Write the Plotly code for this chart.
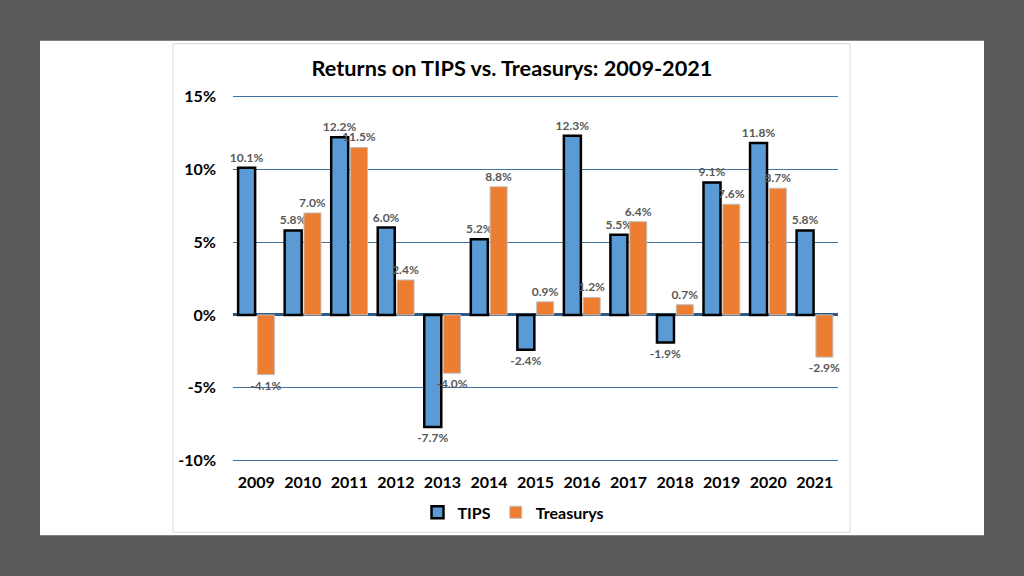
import plotly.graph_objects as go

years = ["2009", "2010", "2011", "2012", "2013", "2014", "2015",
         "2016", "2017", "2018", "2019", "2020", "2021"]
tips = [10.1, 5.8, 12.2, 6.0, -7.7, 5.2, -2.4, 12.3, 5.5, -1.9, 9.1, 11.8, 5.8]
treasurys = [-4.1, 7.0, 11.5, 2.4, -4.0, 8.8, 0.9, 1.2, 6.4, 0.7, 7.6, 8.7, -2.9]
y_ticks = [-10, -5, 0, 5, 10, 15]
y_labels = ["-10%", "-5%", "0%", "5%", "10%", "15%"]

W, H = 1024, 576
# range padded a bit so plotly keeps the -10% / 15% gridlines
L, R, T, B = 233, 186, 94.5, 113.5
pw, ph = W - L - R, H - T - B


def px(x, y):
    # pixel position -> paper fraction
    return (x - L) / pw, (H - B - y) / ph


def label(v):
    return "<b>%.1f%%</b>" % v


fig = go.Figure()
fig.add_trace(go.Bar(
    x=years, y=tips, name="TIPS",
    marker=dict(color="#5B9BD5", line=dict(color="#000000", width=2.5)),
    text=[label(v) for v in tips], textposition="outside",
    textfont=dict(family="Lato", size=12, color="#595959"),
    constraintext="none", cliponaxis=False,
))
fig.add_trace(go.Bar(
    x=years, y=treasurys, name="Treasurys",
    marker=dict(color="#ED7D31", line=dict(color="#BFBFBF", width=1)),
    text=[label(v) for v in treasurys], textposition="outside",
    textfont=dict(family="Lato", size=12, color="#595959"),
    constraintext="none", cliponaxis=False,
))

x0, y0 = px(40, 40)
x1, y1 = px(984, 536)
fx0, fy0 = px(173, 43)
fx1, fy1 = px(850, 533)
fig.add_shape(type="rect", xref="paper", yref="paper", x0=x0, y0=y0, x1=x1, y1=y1,
              fillcolor="white", line=dict(width=0), layer="below")
fig.add_shape(type="rect", xref="paper", yref="paper", x0=fx0, y0=fy0, x1=fx1, y1=fy1,
              fillcolor="white", line=dict(color="#D9D9D9", width=1), layer="below")

lx, ly = px(513, 513)
fig.update_layout(
    width=W, height=H,
    margin=dict(l=L, r=R, t=T, b=B),
    paper_bgcolor="#595959",
    plot_bgcolor="rgba(0,0,0,0)",
    barmode="group", bargap=0.17, bargroupgap=0.12,
    font=dict(family="Lato", color="#000000"),
    title=dict(text="<b>Returns on TIPS vs. Treasurys: 2009-2021</b>",
               x=0.5, xref="container", xanchor="center",
               y=1 - 68 / H, yref="container", yanchor="middle",
               font=dict(size=21.7, color="#000000")),
    legend=dict(orientation="h", x=lx, y=ly, xanchor="center", yanchor="middle",
                font=dict(size=16, weight="bold"), bgcolor="rgba(0,0,0,0)",
                itemwidth=30, tracegroupgap=0),
    showlegend=True,
)
fig.update_xaxes(
    showgrid=False, showline=False, ticks="", ticklabelstandoff=9,
    tickfont=dict(size=16, color="#000000", weight="bold"),
)
fig.update_yaxes(
    range=[-10.1, 15.1], tickvals=y_ticks, ticktext=y_labels,
    showgrid=True, gridcolor="#41719C", gridwidth=1.2,
    zeroline=True, zerolinecolor="#2E5A88", zerolinewidth=3,
    showline=False, ticks="", ticklabelstandoff=16,
    tickfont=dict(size=16, color="#000000", weight="bold"),
)

fig.write_html("out.html", config={"displayModeBar": False},
               post_script="document.body.style.margin='0';")
